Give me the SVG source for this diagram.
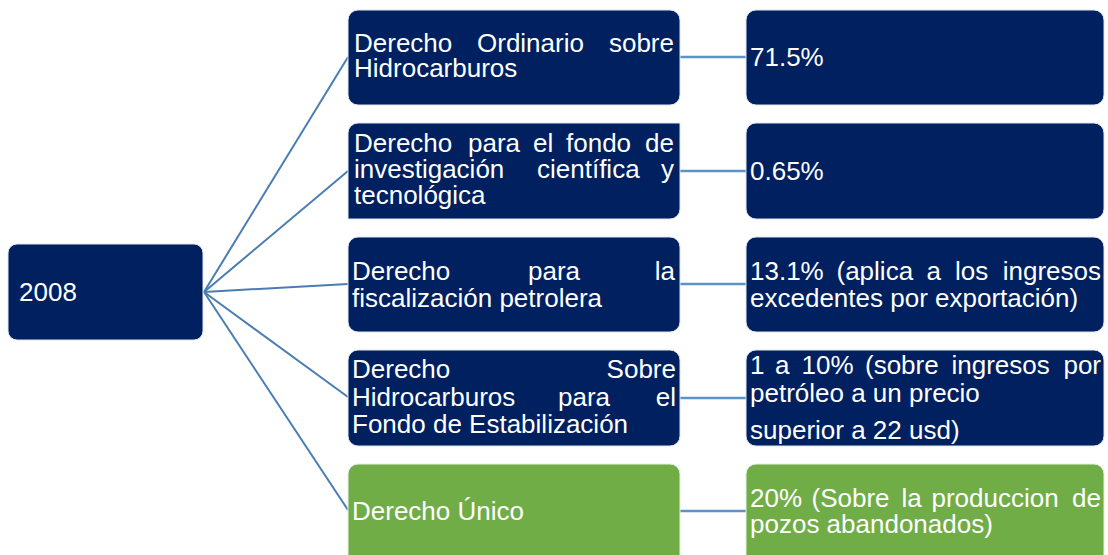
<svg xmlns="http://www.w3.org/2000/svg" width="1108" height="555" viewBox="0 0 1108 555">
<style>
.navy{fill:#002060;stroke:#dfe5ef;stroke-width:1}
.green{fill:#70ad47;stroke:#e6efe0;stroke-width:1}
.t{font-family:"Liberation Sans",Arial,sans-serif;font-size:26px;fill:#ffffff}
.e{text-anchor:end}
.lc{stroke:#4a7db0;stroke-width:2;fill:none}
.rc{stroke:#5b93c9;stroke-width:2.5;fill:none}
</style>
<rect width="1108" height="555" fill="#ffffff"/>
<g id="connectors">
<line class="lc" x1="204" y1="292" x2="348" y2="57"/>
<line class="lc" x1="204" y1="292" x2="348" y2="171"/>
<line class="lc" x1="204" y1="292" x2="348" y2="284"/>
<line class="lc" x1="204" y1="292" x2="348" y2="397"/>
<line class="lc" x1="204" y1="292" x2="348" y2="510"/>
<line class="rc" x1="680" y1="57" x2="746" y2="57"/>
<line class="rc" x1="680" y1="171" x2="746" y2="171"/>
<line class="rc" x1="680" y1="284" x2="746" y2="284"/>
<line class="rc" x1="680" y1="398" x2="746" y2="398"/>
<line class="rc" x1="680" y1="511" x2="746" y2="511"/>
</g>
<g id="n2008">
<rect class="navy" x="8" y="244" width="195" height="96" rx="9"/>
<text class="t" x="19" y="301">2008</text>
</g>
<g id="m1">
<rect class="navy" x="348" y="10" width="332" height="95" rx="10"/>
<text class="t" y="52"><tspan x="354">Derecho</tspan><tspan x="477">Ordinario</tspan><tspan x="674" class="e">sobre</tspan></text>
<text class="t" x="354" y="77">Hidrocarburos</text>
</g>
<g id="m2">
<path class="navy" d="M358 123 H680 V209 A10 10 0 0 1 670 219 H348 V133 A10 10 0 0 1 358 123 Z"/>
<text class="t" y="151.5"><tspan x="354">Derecho</tspan><tspan x="468">para</tspan><tspan x="533">el</tspan><tspan x="566">fondo</tspan><tspan x="674" class="e">de</tspan></text>
<text class="t" y="177.5"><tspan x="354">investigación</tspan><tspan x="537">científica</tspan><tspan x="674" class="e">y</tspan></text>
<text class="t" x="354" y="204">tecnológica</text>
</g>
<g id="m3">
<rect class="navy" x="348" y="237" width="332" height="95" rx="10"/>
<text class="t" y="279.5"><tspan x="352">Derecho</tspan><tspan x="528">para</tspan><tspan x="675" class="e">la</tspan></text>
<text class="t" x="352" y="306.5">fiscalización petrolera</text>
</g>
<g id="m4">
<rect class="navy" x="348" y="350" width="332" height="96" rx="10"/>
<text class="t" y="378"><tspan x="352">Derecho</tspan><tspan x="676" class="e">Sobre</tspan></text>
<text class="t" y="405.5"><tspan x="352">Hidrocarburos</tspan><tspan x="558">para</tspan><tspan x="676" class="e">el</tspan></text>
<text class="t" x="352" y="432.5">Fondo de Estabilización</text>
</g>
<g id="m5">
<rect class="green" x="348" y="464" width="332" height="110" rx="10"/>
<text class="t" x="352" y="520">Derecho Único</text>
</g>
<g id="r1">
<rect class="navy" x="746" y="10" width="358" height="95" rx="10"/>
<text class="t" x="750" y="65.5">71.5%</text>
</g>
<g id="r2">
<rect class="navy" x="746" y="123" width="358" height="96" rx="10"/>
<text class="t" x="750" y="180">0.65%</text>
</g>
<g id="r3">
<rect class="navy" x="746" y="237" width="358" height="95" rx="10"/>
<text class="t" y="280"><tspan x="750">13.1%</tspan><tspan x="836.5">(aplica</tspan><tspan x="926.5">a</tspan><tspan x="955">los</tspan><tspan x="1101" class="e">ingresos</tspan></text>
<text class="t" x="750" y="306.5">excedentes por exportación)</text>
</g>
<g id="r4">
<rect class="navy" x="746" y="350" width="358" height="96" rx="10"/>
<text class="t" y="374"><tspan x="750">1</tspan><tspan x="775">a</tspan><tspan x="801.5">10%</tspan><tspan x="865">(sobre</tspan><tspan x="951.5">ingresos</tspan><tspan x="1101" class="e">por</tspan></text>
<text class="t" x="750" y="401.5">petróleo a un precio</text>
<text class="t" x="750" y="439">superior a 22 usd)</text>
</g>
<g id="r5">
<rect class="green" x="746" y="464" width="358" height="110" rx="10"/>
<text class="t" y="506.5"><tspan x="750">20%</tspan><tspan x="811.5">(Sobre</tspan><tspan x="901.5">la</tspan><tspan x="931.5">produccion</tspan><tspan x="1101" class="e">de</tspan></text>
<text class="t" x="750" y="533">pozos abandonados)</text>
</g>
</svg>
